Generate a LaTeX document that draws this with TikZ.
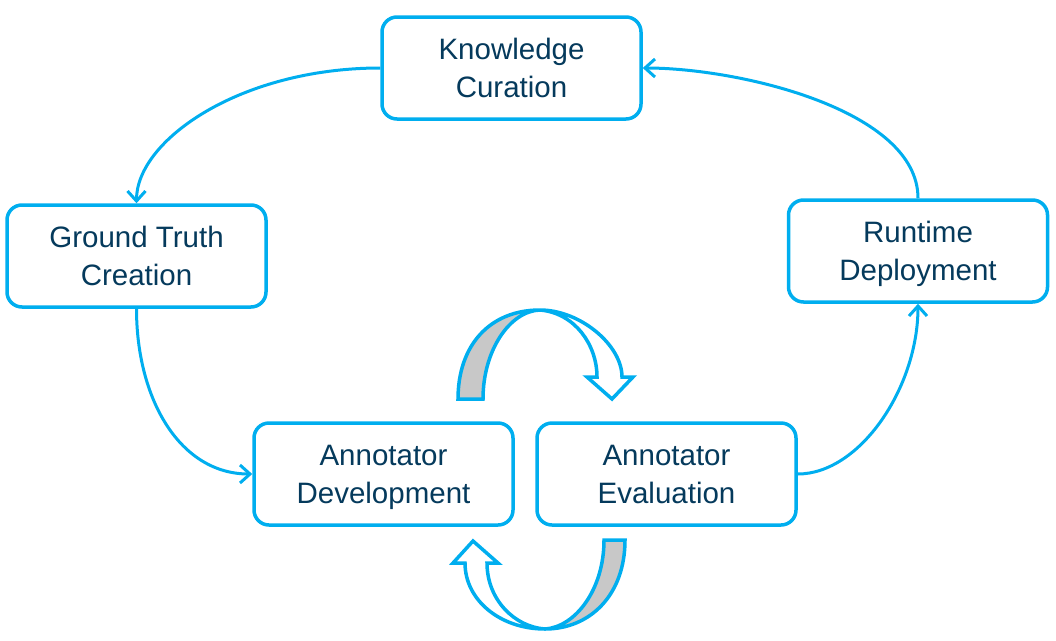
\documentclass[tikz,border=0pt]{standalone}
\usepackage{fontspec}
\setmainfont{Liberation Sans}
\usetikzlibrary{arrows.meta}
\definecolor{cyanline}{HTML}{00AEEF}
\definecolor{navytext}{HTML}{053A5C}
\definecolor{backgray}{HTML}{C8C8C8}
\newcommand\mytopstrut{\rule{0pt}{32.5pt}}
\begin{document}
\begin{tikzpicture}[x=1pt,y=-1pt,
  stagebox/.style={draw=cyanline, line width=3.5pt, rounded corners=15pt, fill=white,
    minimum width=259pt, minimum height=102pt, align=center, text=navytext,
    font=\fontsize{29.5}{38}\selectfont, inner sep=0pt},
  flow/.style={draw=cyanline, line width=3pt, -{Straight Barb[length=10pt,width=18pt,line width=3pt]}},
  ribbon/.style={draw=cyanline, line width=3.5pt, line join=miter}
]
\useasboundingbox (0,0) rectangle (1056,640);

\node[stagebox] (kc) at (511.5,68) {\mytopstrut Knowledge\\Curation\strut};
\node[stagebox] (gt) at (136.5,256) {\mytopstrut Ground Truth\\Creation\strut};
\node[stagebox] (rd) at (918,251) {\mytopstrut Runtime\\Deployment\strut};
\node[stagebox] (ad) at (383.5,474) {\mytopstrut Annotator\\Development\strut};
\node[stagebox] (ae) at (666.5,474) {\mytopstrut Annotator\\Evaluation\strut};

\draw[flow] (kc.west) .. controls +(-140,0) and +(0,-63) .. (gt.north);
\draw[flow] (gt.south) .. controls +(0,91) and +(-72,0) .. (ad.west);
\draw[flow] (ae.east) .. controls +(62,0) and +(0,84) .. (rd.south);
\draw[flow] (rd.north) .. controls +(0,-88) and +(97,0) .. (kc.east);

% top curved ribbon arrow
\coordinate (tT) at (540,310);
\filldraw[ribbon, fill=backgray] (458,399) .. controls (458,345) and (490,310) .. (tT)
  .. controls (510,311) and (483,350) .. (483,399) -- cycle;
\filldraw[ribbon, fill=white] (tT) .. controls (580,310) and (622,345) .. (622,377)
  -- (633,377) -- (612,399) -- (587,377) -- (597,377)
  .. controls (597,345) and (575,313) .. (tT) -- cycle;

% bottom curved ribbon arrow
\coordinate (bB) at (545,629);
\filldraw[ribbon, fill=backgray] (625,540) .. controls (625,595) and (590,629) .. (bB)
  .. controls (575,627) and (604,590) .. (604,540) -- cycle;
\filldraw[ribbon, fill=white] (bB) .. controls (500,629) and (465,600) .. (465,563)
  -- (453,563) -- (473,541) -- (498,563) -- (487,563)
  .. controls (487,600) and (515,627) .. (bB) -- cycle;
\end{tikzpicture}
\end{document}
